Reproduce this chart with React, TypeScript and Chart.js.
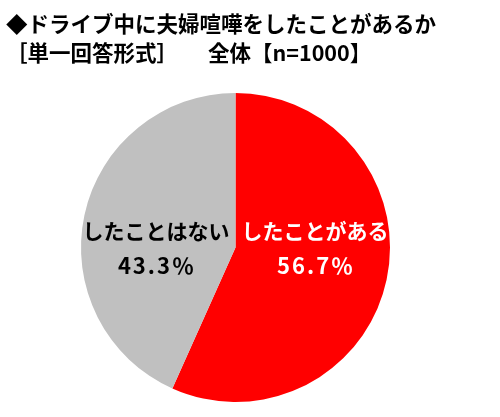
import { useEffect, useRef } from "react";
import Chart from "chart.js/auto";

const categories = ["したことがある", "したことはない"];
const values = [56.7, 43.3];
const colors = ["#FF0000", "#C0C0C0"];
const labelColors = ["#FFFFFF", "#000000"];

const titleLine1 = "◆ドライブ中に夫婦喧嘩をしたことがあるか";
const titleLine2a = "［単一回答形式］";
const titleLine2b = "全体【n=1000】";

const FONT = '"Noto Sans CJK JP", "Noto Sans", sans-serif';

const sliceLabels = {
  id: "sliceLabels",
  afterDatasetsDraw(chart: any) {
    const ctx = chart.ctx;
    const meta = chart.getDatasetMeta(0);
    meta.data.forEach((arc: any, i: number) => {
      const mid = (arc.startAngle + arc.endAngle) / 2;
      const side = Math.cos(mid) >= 0 ? 1 : -1;
      const x = arc.x + side * arc.outerRadius * 0.515;
      const y = arc.y;
      ctx.save();
      ctx.fillStyle = labelColors[i];
      ctx.textAlign = "center";
      ctx.textBaseline = "middle";
      ctx.font = `bold 21px ${FONT}`;
      ctx.fillText(categories[i], x, y - 16);
      ctx.font = `bold 22px ${FONT}`;
      (ctx as any).letterSpacing = "2px";
      ctx.fillText(values[i].toFixed(1) + "％", x + 1, y + 18);
      ctx.restore();
    });
  },
};

export default function App() {
  const chartRef = useRef<HTMLCanvasElement>(null);

  useEffect(() => {
    document.body.style.margin = "0";
    if (!chartRef.current) return;
    const ctx = chartRef.current.getContext("2d");
    if (!ctx) return;
    const chart = new Chart(ctx, {
      type: "pie",
      data: {
        labels: categories,
        datasets: [
          {
            data: values,
            backgroundColor: colors,
            borderWidth: 0,
          },
        ],
      },
      options: {
        responsive: false,
        animation: false,
        layout: { padding: { left: 81, right: 110, top: 93, bottom: 15 } },
        plugins: {
          legend: { display: false },
          tooltip: { enabled: false },
        },
      },
      plugins: [sliceLabels],
    });
    return () => {
      chart.destroy();
    };
  }, []);

  return (
    <div style={{ position: "relative", width: 500, height: 417, background: "#fff" }}>
      <canvas ref={chartRef} width={500} height={417} style={{ position: "absolute", left: 0, top: 0 }} />
      <div
        style={{
          position: "absolute",
          left: 6,
          top: 8,
          fontFamily: FONT,
          fontWeight: "bold",
          fontSize: 21.5,
          lineHeight: "29px",
          color: "#000",
          whiteSpace: "nowrap",
        }}
      >
        <div>{titleLine1}</div>
        <div>
          <span>{titleLine2a}</span>
          <span style={{ marginLeft: 30 }}>{titleLine2b}</span>
        </div>
      </div>
    </div>
  );
}
